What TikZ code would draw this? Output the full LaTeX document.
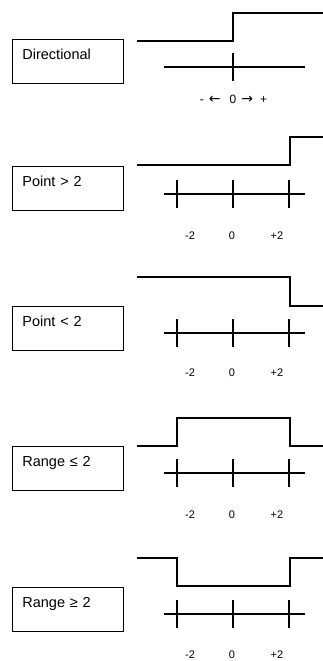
\documentclass[tikz,border=0pt]{standalone}
\usepackage{fontspec}
\setmainfont{Liberation Sans}
\newfontfamily\arwfont{DejaVu Sans}
\newcommand{\arw}[1]{{\arwfont\fontsize{14}{14}\selectfont #1}}
\begin{document}
\begin{tikzpicture}[x=1pt,y=-1pt,
  boxst/.style={draw,line width=0.8pt,anchor=north west,text width=91pt,align=left,
    inner xsep=10pt,inner ysep=9pt,text height=11pt,text depth=15pt,
    font=\fontsize{14.5}{16}\selectfont},
  sig/.style={line width=1.8pt,line join=miter},
  axis/.style={line width=1.8pt},
  lab/.style={font=\fontsize{11}{12}\selectfont,inner sep=0pt}]
\useasboundingbox (0,0) rectangle (323,661);
% Panel 1
\node[boxst] (b1) at (12,39) {Directional};
\draw[sig] (137,41) -- (233,41) -- (233,13) -- (323,13);
\draw[axis] (164,67) -- (305,67);
\draw[axis] (233,53) -- (233,81);
\node[lab,font=\fontsize{12}{13}\selectfont,anchor=base] (l1) at (233.5,103) {-\kern5pt\arw{←}\kern9pt0\kern5pt\arw{→}\kern7pt+};
% Panel 2
\node[boxst] (b2) at (12,166) {Point > 2};
\draw[sig] (137,165) -- (290,165) -- (290,137) -- (323,137);
\draw[axis] (164,194) -- (305,194);
\foreach \t in {177,233,289} \draw[axis] (\t,180) -- (\t,208);
\node[lab] (m2) at (190,236) {-2};
\node[lab] (z2) at (232,236) {0};
\node[lab] (p2) at (277,236) {+2};
% Panel 3
\node[boxst] (b3) at (12,306) {Point < 2};
\draw[sig] (137,277) -- (290,277) -- (290,306) -- (323,306);
\draw[axis] (164,333) -- (305,333);
\foreach \t in {177,233,289} \draw[axis] (\t,319) -- (\t,347);
\node[lab] (m3) at (190,373) {-2};
\node[lab] (z3) at (232,373) {0};
\node[lab] (p3) at (277,373) {+2};
% Panel 4
\node[boxst] (b4) at (12,446) {Range ≤ 2};
\draw[sig] (137,446) -- (177,446) -- (177,418) -- (290,418) -- (290,446) -- (323,446);
\draw[axis] (164,473) -- (305,473);
\foreach \t in {177,233,289} \draw[axis] (\t,459) -- (\t,487);
\node[lab] (m4) at (190,515) {-2};
\node[lab] (z4) at (232,515) {0};
\node[lab] (p4) at (277,515) {+2};
% Panel 5
\node[boxst] (b5) at (12,587) {Range ≥ 2};
\draw[sig] (137,558) -- (177,558) -- (177,586) -- (290,586) -- (290,558) -- (323,558);
\draw[axis] (164,614) -- (305,614);
\foreach \t in {177,233,289} \draw[axis] (\t,600) -- (\t,628);
\node[lab] (m5) at (190,655) {-2};
\node[lab] (z5) at (232,655) {0};
\node[lab] (p5) at (277,655) {+2};
\end{tikzpicture}
\end{document}
